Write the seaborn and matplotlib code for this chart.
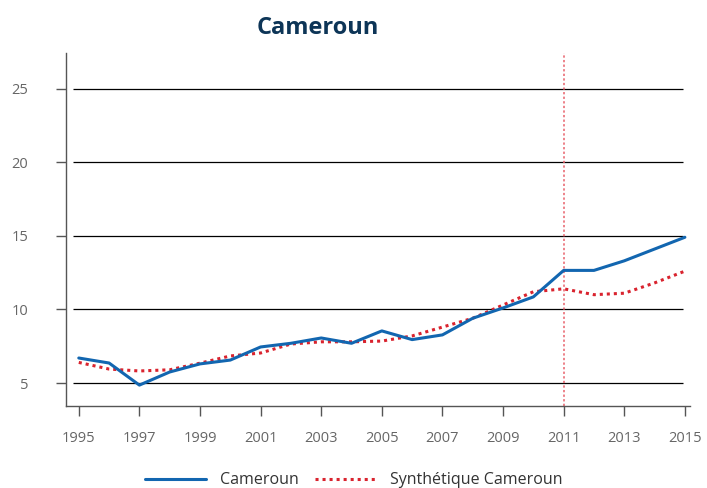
import matplotlib
matplotlib.use("Agg")
import matplotlib.pyplot as plt
import seaborn as sns
import pandas as pd

years = list(range(1995, 2016))
cameroun = [6.7, 6.36, 4.86, 5.75, 6.3, 6.56, 7.45, 7.7, 8.06, 7.7, 8.54,
            7.95, 8.27, 9.4, 10.1, 10.85, 12.65, 12.65, 13.3, 14.1, 14.9]
synthetique = [6.4, 5.95, 5.82, 5.9, 6.35, 6.84, 7.04, 7.65, 7.8, 7.8, 7.85,
               8.2, 8.8, 9.4, 10.3, 11.2, 11.4, 11.0, 11.1, 11.8, 12.6]
y_ticks = [5, 10, 15, 20, 25]
x_ticks = list(range(1995, 2016, 2))
treatment_year = 2011

df = pd.DataFrame({"annee": years, "Cameroun": cameroun,
                   "Synthétique Cameroun": synthetique})

sns.set_style("white")
plt.rcParams['font.family'] = ['Open Sans', 'DejaVu Sans']

fig = plt.figure(figsize=(7.07, 4.88), dpi=100)
ax = fig.add_axes([0.093, 0.168, 0.883, 0.723])

ax.hlines(y_ticks, 1994.8, 2014.95, color="black", linewidth=0.9, zorder=1)
ax.axvline(treatment_year, color="#e8606a", linestyle=(0, (1.5, 1.5)),
           linewidth=1.1, zorder=2)

sns.lineplot(data=df, x="annee", y="Cameroun", ax=ax, color="#1266b0",
             linewidth=2.2, label="Cameroun", zorder=4, legend=False)
sns.lineplot(data=df, x="annee", y="Synthétique Cameroun", ax=ax,
             color="#d9232e", linewidth=2.2, linestyle=(0, (1, 1.3)),
             label="Synthétique Cameroun", zorder=3, legend=False)

ax.set_xlim(1994.57, 2015.17)
ax.set_ylim(3.44, 27.4)
ax.set_xticks(x_ticks)
ax.set_yticks(y_ticks)
ax.set_xlabel("")
ax.set_ylabel("")

for side in ["top", "right"]:
    ax.spines[side].set_visible(False)
for side in ["left", "bottom"]:
    ax.spines[side].set_color("#555555")
    ax.spines[side].set_linewidth(1.0)

ax.tick_params(axis="y", direction="out", length=7, width=1, color="#555555",
               pad=20, labelsize=10.5, labelcolor="#666666", left=True)
ax.tick_params(axis="x", direction="out", length=7, width=1, color="#555555",
               pad=11, labelsize=10.5, labelcolor="#666666", bottom=True)

fig.text(0.45, 0.942, "Cameroun", ha="center", va="center", fontsize=17,
         fontweight="bold", color="#0d3557")

handles, labels = ax.get_legend_handles_labels()
fig.legend(handles, labels, loc="center", bbox_to_anchor=(0.5, 0.016), ncol=2,
           frameon=False, fontsize=11.5, handlelength=3.8, handletextpad=0.9,
           columnspacing=1.0, labelcolor="#333333", borderpad=0)

fig.savefig("out.png", dpi=100)
